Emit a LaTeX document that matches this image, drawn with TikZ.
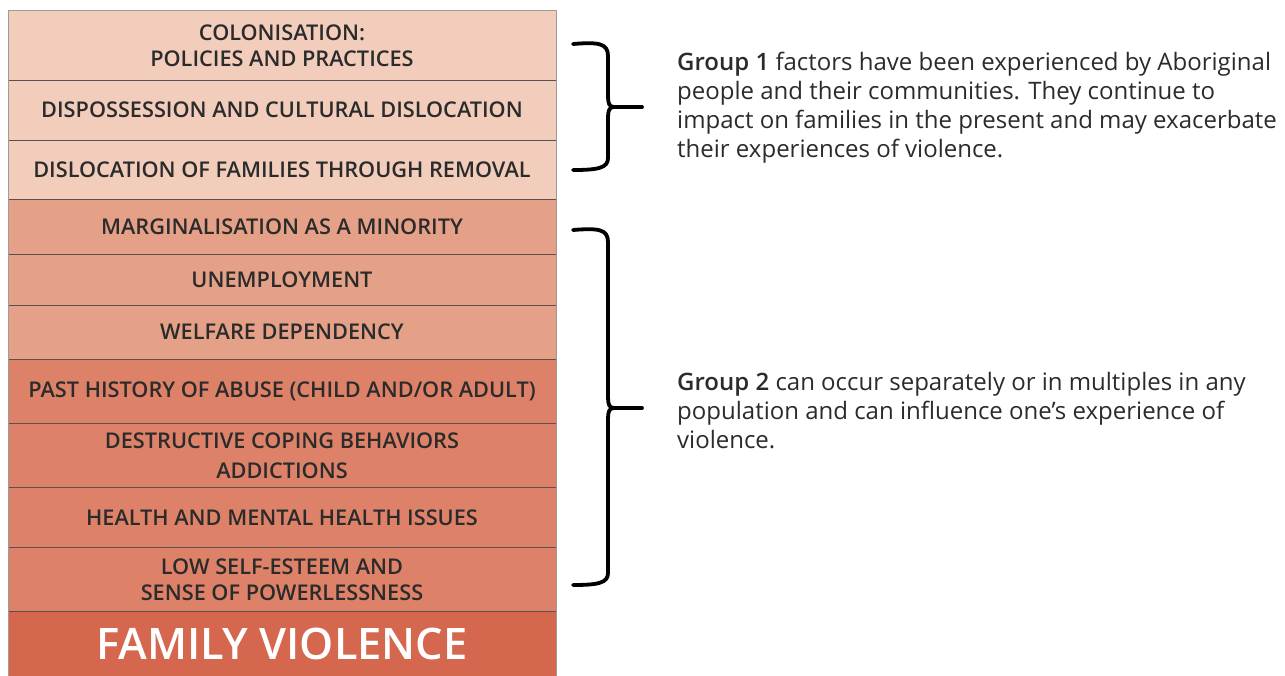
\documentclass[tikz,border=0pt]{standalone}
\usepackage{fontspec}
\setmainfont{Open Sans}
\newfontfamily\semibold{Open Sans Semibold}
\definecolor{ink}{HTML}{2B2B2B}
\definecolor{rule}{HTML}{5A5050}
\definecolor{frame}{HTML}{A09A98}
\definecolor{histfill}{HTML}{F2CDBB}
\definecolor{socfill}{HTML}{E5A088}
\definecolor{persfill}{HTML}{DD8269}
\definecolor{fvfill}{HTML}{D4674D}

\begin{document}
\begin{tikzpicture}[x=1pt,y=-1pt,
 row/.style={rectangle,anchor=north,minimum width=548pt,inner sep=0pt,
   outer sep=0pt,align=center,text=ink,
   font=\semibold\fontsize{21.7}{26}\selectfont},
 sep/.style={rule,line width=1pt},
 % hand drawn look of the two curly brackets
 brace/.style={line width=3.8pt,line cap=round,line join=round},
 % notes are placed by the baseline of their last line
 note/.style={anchor=base west,align=left,text=ink,inner sep=0pt,
   font=\fontsize{24}{29}\selectfont}]
\useasboundingbox (0,0) rectangle (1285,675);

% Stack of factors, top to bottom; heights follow the text in each row.
\node[row,fill=histfill,minimum height=69.5pt] (colon) at (282,10.5)
 {COLONISATION:\\POLICIES AND PRACTICES};
\node[row,fill=histfill,minimum height=60pt] (dispos) at (colon.south)
 {DISPOSSESSION AND CULTURAL DISLOCATION};
\node[row,fill=histfill,minimum height=59.5pt] (removal) at (dispos.south)
 {DISLOCATION OF FAMILIES THROUGH REMOVAL};
\node[row,fill=socfill,minimum height=54.5pt] (margin) at (removal.south)
 {MARGINALISATION AS A MINORITY};
\node[row,fill=socfill,minimum height=51pt] (unemp) at (margin.south)
 {UNEMPLOYMENT};
\node[row,fill=socfill,minimum height=54pt] (welfare) at (unemp.south)
 {WELFARE DEPENDENCY};
\node[row,fill=persfill,minimum height=64pt] (abuse) at (welfare.south)
 {PAST HISTORY OF ABUSE (CHILD AND/OR ADULT)};
\node[row,fill=persfill,minimum height=64.5pt] (coping) at (abuse.south)
 {DESTRUCTIVE COPING BEHAVIORS\\[4pt]ADDICTIONS};
\node[row,fill=persfill,minimum height=59.5pt] (health) at (coping.south)
 {HEALTH AND MENTAL HEALTH ISSUES};
\node[row,fill=persfill,minimum height=64.5pt] (esteem) at (health.south)
 {LOW SELF-ESTEEM AND\\SENSE OF POWERLESSNESS};
\node[row,fill=fvfill,minimum height=64pt,text=white,
 font=\semibold\fontsize{43.4}{50}\selectfont] (fv) at (esteem.south)
 {FAMILY VIOLENCE};

% dividing rules between rows, lighter frame round the stack
\foreach \r in {colon,dispos,removal,margin,unemp,welfare,abuse,coping,health,esteem}
 \draw[sep] (\r.south west) -- (\r.south east);
\draw[frame,line width=1pt] (fv.south west) -- (colon.north west)
 -- (colon.north east) -- (fv.south east);

% Group 1 bracket
\draw[brace] (573,44) .. controls (598,42) and (608,43) .. (608,56)
 -- (608,96) .. controls (608,103) and (609,107) .. (614,107)
 .. controls (609,107) and (608,111) .. (608,118)
 -- (608,158) .. controls (608,168) and (598,170) .. (573,170);
\draw[brace] (612,107) -- (642,107);

% Group 2 bracket
\draw[brace] (573,230) .. controls (598,228) and (608,229) .. (608,242)
 -- (608,397) .. controls (608,404) and (609,408) .. (614,408)
 .. controls (609,408) and (608,412) .. (608,419)
 -- (608,573) .. controls (608,583) and (598,585) .. (573,585);
\draw[brace] (612,408) -- (642,408);

\node[note] (g1text) at (677,157)
 {{\semibold Group 1} factors have been experienced by Aboriginal\\
 people and their communities. They continue to\\
 impact on families in the present and may exacerbate\\
 their experiences of violence.};
\node[note] (g2text) at (677,448)
 {{\semibold Group 2} can occur separately or in multiples in any\\
 population and can influence one's experience of\\
 violence.};
\end{tikzpicture}
\end{document}
